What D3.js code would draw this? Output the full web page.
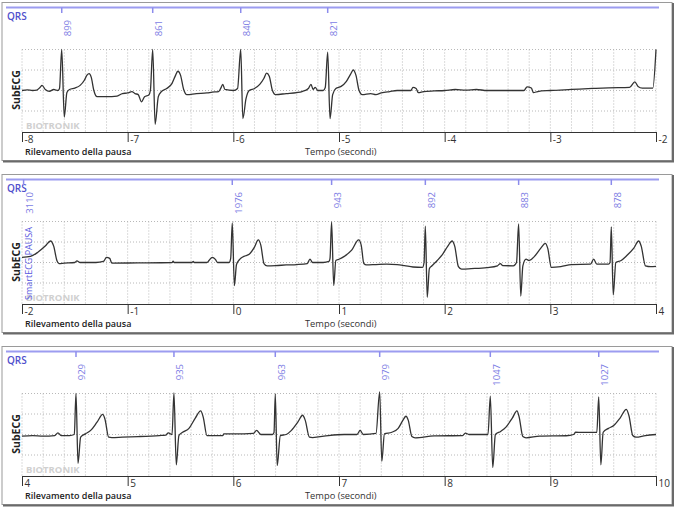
<!DOCTYPE html>
<html>
<head>
<meta charset="utf-8">
<script src="https://cdn.jsdelivr.net/npm/d3@7"></script>
<style>
  body { margin: 0; background: #fff; }
  svg { display: block; font-family: "Open Sans", "Noto Sans", sans-serif; }
</style>
</head>
<body>
<div class="graph"></div>
<script>
// strip start times (each strip covers 6 seconds)
const stripStarts = [-8, -2, 4]

// QRS marks: time of beat (s) and RR label (ms)
const qrsTimes1 = [-7.624, -6.763, -5.93, -5.107]
const qrsLabels1 = ["899", "861", "840", "821"]
const qrsTimes2 = [-1.985, -0.01, 0.93, 1.817, 2.70, 3.577]
const qrsLabels2 = ["3110", "1976", "943", "892", "883", "878"]
const qrsTimes3 = [4.511, 5.438, 6.397, 7.385, 8.432, 9.458]
const qrsLabels3 = ["929", "935", "963", "979", "1047", "1027"]

// SubECG trace points [time s, amplitude in grid units]
const trace1 = [
  [-8.00, 0.00], [-7.95, 0.03], [-7.90, 0.0], [-7.86, 0.02], [-7.83, 0.15], [-7.81, 0.25], [-7.78, 0.05],
  [-7.74, -0.04], [-7.70, 0.05], [-7.66, 0.0], [-7.645, 0.1], [-7.624, 2.0], [-7.60, -1.3],
  [-7.575, -0.1], [-7.55, 0.05], [-7.50, 0.12], [-7.45, 0.25], [-7.41, 0.5], [-7.385, 0.75], [-7.365, 0.82],
  [-7.345, 0.65], [-7.32, 0.0], [-7.29, -0.3], [-7.20, -0.3], [-7.10, -0.27], [-7.05, -0.15],
  [-7.00, -0.12], [-6.96, -0.05], [-6.93, -0.15], [-6.90, -0.2], [-6.87, -0.55], [-6.84, -0.3],
  [-6.80, -0.22], [-6.785, 0.0], [-6.763, 2.0], [-6.74, -1.65], [-6.71, -0.3], [-6.68, -0.05],
  [-6.63, 0.1], [-6.58, 0.35], [-6.55, 0.7], [-6.525, 0.94], [-6.50, 0.75], [-6.47, 0.05], [-6.44, -0.2],
  [-6.35, -0.15], [-6.25, -0.12], [-6.20, -0.08], [-6.14, -0.05], [-6.12, 0.1], [-6.10, 0.3],
  [-6.08, 0.05], [-6.00, 0.0], [-5.96, 0.1], [-5.93, 2.0], [-5.91, -1.37], [-5.88, -0.4],
  [-5.85, 0.0], [-5.80, 0.1], [-5.75, 0.3], [-5.71, 0.6], [-5.685, 0.85], [-5.66, 0.7],
  [-5.63, 0.0], [-5.60, -0.2], [-5.50, -0.15], [-5.40, -0.1], [-5.35, -0.05], [-5.29, 0.1],
  [-5.265, 0.3], [-5.245, 0.05], [-5.225, 0.15], [-5.20, 0.0], [-5.15, 0.0], [-5.13, 0.15],
  [-5.107, 1.87], [-5.085, -1.37], [-5.06, -0.2], [-5.03, 0.1], [-4.98, 0.2], [-4.93, 0.45],
  [-4.89, 0.8], [-4.865, 1.0], [-4.84, 0.75], [-4.81, 0.0], [-4.78, -0.2], [-4.70, -0.15], [-4.65, -0.2],
  [-4.60, -0.12], [-4.52, -0.05], [-4.45, 0.0], [-4.32, 0.0], [-4.30, 0.15], [-4.27, 0.1], [-4.25, -0.1],
  [-4.20, -0.05], [-4.10, -0.02], [-4.00, 0.0], [-3.90, 0.05], [-3.80, 0.02], [-3.70, 0.05], [-3.60, 0.0], [-3.25, 0.0],
  [-3.22, 0.18], [-3.18, 0.12], [-3.16, -0.1], [-3.12, -0.05], [-3.00, 0.0], [-2.80, 0.05],
  [-2.60, 0.1], [-2.45, 0.13], [-2.25, 0.15], [-2.20, 0.42], [-2.17, 0.2], [-2.13, 0.12],
  [-2.03, 0.12], [-2.00, 2.0]
]
const trace2 = [
  [-2.00, 0.25], [-1.92, 0.3], [-1.85, 0.5], [-1.78, 0.8], [-1.73, 1.05], [-1.70, 0.8],
  [-1.67, 0.1], [-1.65, -0.05], [-1.60, -0.03], [-1.50, 0.0], [-1.48, 0.08], [-1.45, 0.0],
  [-1.30, 0.0], [-1.23, 0.05], [-1.20, 0.25], [-1.17, 0.2], [-1.15, -0.03], [-0.90, -0.02],
  [-0.58, 0.0], [-0.57, 0.06], [-0.56, 0.0], [-0.39, 0.0], [-0.38, 0.05], [-0.37, 0.0],
  [-0.25, 0.0], [-0.23, 0.1], [-0.20, 0.25], [-0.17, 0.15], [-0.15, 0.0], [-0.04, 0.0],
  [-0.025, 0.2], [-0.01, 1.93], [0.01, -1.13], [0.03, -0.1], [0.06, 0.15], [0.10, 0.3],
  [0.15, 0.4], [0.20, 0.75], [0.236, 1.1], [0.26, 0.85], [0.29, -0.05], [0.32, -0.16],
  [0.40, -0.15], [0.50, -0.12], [0.60, -0.1], [0.70, -0.05], [0.725, 0.16], [0.75, 0.0],
  [0.85, 0.0], [0.905, 0.05], [0.915, 0.2], [0.93, 1.98], [0.95, -1.13], [0.97, 0.1],
  [1.00, 0.16], [1.05, 0.3], [1.12, 0.6], [1.186, 1.1], [1.21, 0.85], [1.235, -0.05],
  [1.26, -0.12], [1.35, -0.1], [1.45, -0.08], [1.55, -0.1], [1.62, -0.15], [1.70, -0.22],
  [1.79, -0.24], [1.805, 0.0], [1.817, 1.77], [1.835, -1.7], [1.855, -0.3], [1.88, -0.16],
  [1.93, 0.1], [1.98, 0.4], [2.03, 0.8], [2.07, 1.05], [2.095, 0.8], [2.13, -0.2], [2.16, -0.32],
  [2.25, -0.3], [2.40, -0.25], [2.50, -0.16], [2.527, -0.05], [2.55, -0.15], [2.65, -0.16],
  [2.68, 0.0], [2.70, 1.88], [2.72, -1.64], [2.74, -0.16], [2.77, 0.16], [2.80, 0.1],
  [2.85, 0.3], [2.91, 0.7], [2.952, 0.93], [2.975, 0.7], [3.01, -0.24], [3.10, -0.2],
  [3.20, -0.1], [3.38, -0.08], [3.41, 0.16], [3.44, -0.08], [3.55, -0.08], [3.565, 0.0],
  [3.577, 1.74], [3.595, -1.58], [3.62, 0.0], [3.67, 0.1], [3.72, 0.32], [3.79, 0.7],
  [3.836, 1.05], [3.86, 0.8], [3.90, -0.16], [3.95, -0.2], [4.00, -0.19]
]
const trace3 = [
  [4.00, -0.08], [4.10, -0.05], [4.20, -0.08], [4.31, -0.05], [4.34, 0.08], [4.37, -0.05],
  [4.45, -0.05], [4.495, 0.0], [4.511, 2.0], [4.53, -1.41], [4.555, -0.13], [4.60, 0.03],
  [4.65, 0.2], [4.71, 0.6], [4.764, 0.98], [4.785, 0.75], [4.82, -0.13], [4.85, -0.15],
  [4.95, -0.13], [5.10, -0.1], [5.30, -0.05], [5.36, -0.03], [5.385, 0.08], [5.42, 0.0],
  [5.438, 2.03], [5.46, -1.48], [5.485, -0.05], [5.52, 0.11], [5.58, 0.3], [5.64, 0.8],
  [5.691, 1.15], [5.715, 0.85], [5.75, -0.05], [5.90, -0.05], [5.91, 0.03], [6.10, 0.03],
  [6.19, 0.05], [6.22, 0.2], [6.26, 0.0], [6.37, 0.0], [6.385, 0.1], [6.397, 1.97],
  [6.415, -1.52], [6.445, -0.05], [6.50, 0.0], [6.55, 0.2], [6.61, 0.6], [6.656, 0.94],
  [6.68, 0.7], [6.72, -0.13], [6.75, -0.15], [6.90, -0.05], [7.05, 0.0], [7.17, 0.0],
  [7.20, 0.2], [7.23, 0.0], [7.35, 0.05], [7.385, 2.08], [7.405, -1.31], [7.43, 0.03],
  [7.50, 0.11], [7.56, 0.3], [7.60, 0.65], [7.634, 0.89], [7.655, 0.7], [7.69, -0.1],
  [7.72, -0.16], [7.90, -0.07], [8.17, -0.05], [8.195, 0.07], [8.23, 0.0], [8.41, 0.0],
  [8.432, 1.87], [8.455, -1.61], [8.48, 0.0], [8.53, 0.15], [8.58, 0.36], [8.64, 0.8],
  [8.684, 1.15], [8.705, 0.85], [8.74, -0.1], [8.77, -0.16], [8.90, -0.08], [9.15, -0.06],
  [9.22, 0.0], [9.24, 0.11], [9.30, 0.1], [9.44, 0.11], [9.458, 1.84], [9.478, -1.48],
  [9.50, 0.11], [9.55, 0.3], [9.60, 0.44], [9.66, 0.8], [9.719, 1.23], [9.745, 0.9],
  [9.78, -0.05], [9.81, -0.13], [9.90, -0.05], [10.00, 0.0]
]

const traces = [trace1, trace2, trace3]
const qrsTimes = [qrsTimes1, qrsTimes2, qrsTimes3]
const qrsLabels = [qrsLabels1, qrsLabels2, qrsLabels3]
const panelTops = [2, 174, 346]

const width = 677, height = 509
const svg = d3.select(".graph").append("svg")
    .attr("width", width)
    .attr("height", height)

svg.append("rect").attr("width", width).attr("height", height).attr("fill", "#fff")

stripStarts.forEach((start, i) => {
    const top = panelTops[i]
    const g = svg.append("g").attr("transform", `translate(0, ${top})`)

    // panel frame with shadow
    g.append("rect")
        .attr("x", 2).attr("y", 0.5)
        .attr("width", 670).attr("height", 158)
        .attr("fill", "#fff").attr("stroke", "#9a9a9a").attr("stroke-width", 1)
    g.append("path")
        .attr("d", "M673,1V159.5H3")
        .attr("fill", "none").attr("stroke", "#6a6a6a").attr("stroke-width", 2)

    const x = d3.scaleLinear().domain([start, start + 6]).range([22, 656])
    const y = d3.scaleLinear().domain([-2, 2]).range([129.5, 47.5])

    // dotted grid
    const gridT = d3.range(0, 31).map(k => start + k * 0.2)
    g.append("g").selectAll("line")
        .data(gridT)
        .join("line")
        .attr("x1", d => x(d)).attr("x2", d => x(d))
        .attr("y1", y(2)).attr("y2", y(-2))
        .attr("stroke", "#b8b8b8").attr("stroke-dasharray", "1,2")
    g.append("g").selectAll("line")
        .data([2, 1, 0, -1])
        .join("line")
        .attr("x1", x(start)).attr("x2", x(start + 6))
        .attr("y1", d => y(d)).attr("y2", d => y(d))
        .attr("stroke", "#b8b8b8").attr("stroke-dasharray", "1,2")

    // QRS marker line
    g.append("line")
        .attr("x1", 6).attr("x2", 659)
        .attr("y1", 5.5).attr("y2", 5.5)
        .attr("stroke", "#9c9cf0").attr("stroke-width", 2)
    g.append("text")
        .attr("x", 7).attr("y", 17.5)
        .attr("fill", "#5050cc").attr("font-size", "10px").attr("font-weight", 600)
        .text("QRS")
    const qrs = qrsTimes[i].map((t, k) => ({t: t, label: qrsLabels[i][k]}))
    g.append("g").selectAll("line")
        .data(qrs)
        .join("line")
        .attr("x1", d => x(d.t)).attr("x2", d => x(d.t))
        .attr("y1", 5.5).attr("y2", 11)
        .attr("stroke", "#8c8cec").attr("stroke-width", 1.5)
    g.append("g").selectAll("text")
        .data(qrs)
        .join("text")
        .attr("transform", d => `translate(${x(d.t) + 9.5}, 18) rotate(-90)`)
        .attr("text-anchor", "end")
        .attr("fill", "#7c7ce4").attr("font-size", "9.5px")
        .text(d => d.label)

    // SubECG trace
    const line = d3.line().x(d => x(d[0])).y(d => y(d[1])).curve(d3.curveMonotoneX)
    g.append("path")
        .datum(traces[i])
        .attr("d", line)
        .attr("fill", "none").attr("stroke", "#333").attr("stroke-width", 1.3)
        .attr("stroke-linejoin", "round")

    // time axis
    const xAxis = d3.axisBottom(x).ticks(6).tickSize(10).tickFormat(d => String(d))
    const ax = g.append("g")
        .attr("transform", "translate(0, 130)")
        .call(xAxis)
    ax.select(".domain").attr("stroke", "#333").attr("d", "M22,0.5H656")
    ax.selectAll(".tick line").attr("stroke", "#333")
    ax.selectAll(".tick text")
        .attr("text-anchor", "start").attr("x", 2).attr("y", 4)
        .attr("font-size", "10px").attr("fill", "#333")
        .attr("font-family", "Open Sans, sans-serif")

    g.append("text")
        .attr("x", 25).attr("y", 153)
        .attr("font-size", "9px").attr("font-weight", 600).attr("fill", "#222")
        .text("Rilevamento della pausa")
    g.append("text")
        .attr("x", 305).attr("y", 153)
        .attr("font-size", "9.3px").attr("fill", "#333")
        .text("Tempo (secondi)")

    g.append("text")
        .attr("transform", "translate(20, 88) rotate(-90)")
        .attr("text-anchor", "middle")
        .attr("font-size", "10.5px").attr("font-weight", 700).attr("fill", "#222")
        .text("SubECG")
    g.append("text")
        .attr("x", 26).attr("y", 126.5)
        .attr("font-size", "9.5px").attr("font-weight", 700).attr("fill", "#d0d0d0")
        .text("BIOTRONIK")

    if (i === 1) {
        g.append("text")
            .attr("transform", "translate(32, 126) rotate(-90)")
            .attr("fill", "#5a5ae0").attr("font-size", "9px")
            .text("SmartECG PAUSA")
    }
})
</script>
</body>
</html>
